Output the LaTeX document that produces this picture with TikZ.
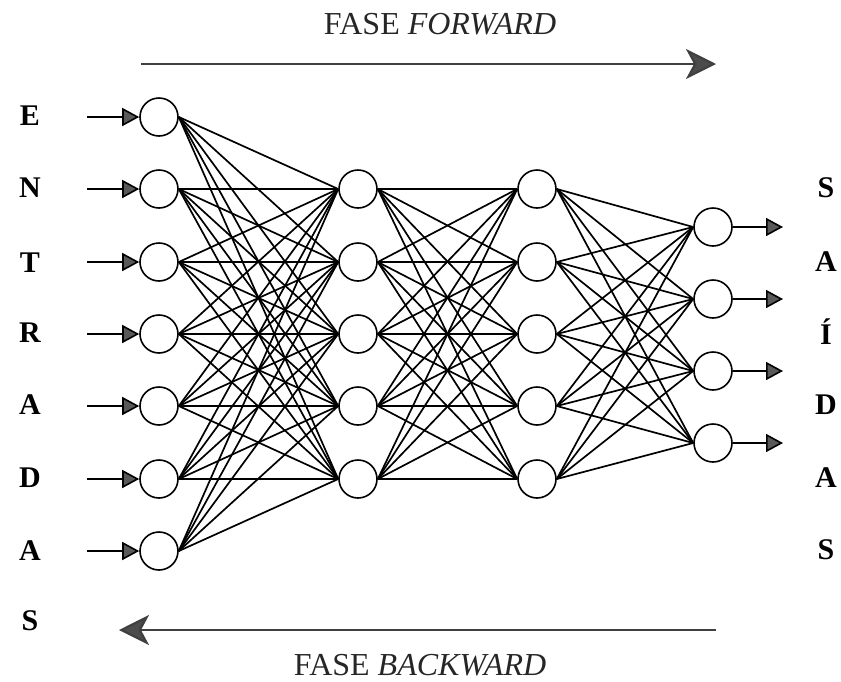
\documentclass[tikz,border=0pt]{standalone}
\usepackage{fontspec}
\setmainfont{Liberation Serif}
\usetikzlibrary{arrows.meta}
\begin{document}
\begin{tikzpicture}[x=0.5pt,y=-0.5pt,
  neuron/.style={circle,draw,line width=0.8pt,minimum size=19pt,inner sep=0pt,fill=white},
  link/.style={line width=0.85pt},
  io/.style={line width=0.8pt,-{Triangle[length=8.5pt,width=9pt,fill=black!65]}},
  phase/.style={line width=1.1pt,draw=black!75,-{Stealth[length=15pt,width=15pt,inset=4pt,fill=black!70]}},
  letter/.style={font=\fontsize{15}{18}\selectfont\bfseries,inner sep=0pt},
  title/.style={font=\fontsize{16}{19}\selectfont,inner sep=0pt,text=black!85}]
\useasboundingbox (0,0) rectangle (841,681);
% input layer
\foreach \i/\y in {1/117,2/189,3/262,4/334,5/406,6/479,7/551}{
  \node[neuron] (a\i) at (159,\y) {};
  \coordinate (in\i) at (87,\y);
}
% hidden layers
\foreach \i/\y in {1/189,2/262,3/334,4/406,5/479}{
  \node[neuron] (b\i) at (358,\y) {};
  \node[neuron] (c\i) at (537,\y) {};
}
% output layer
\foreach \i/\y in {1/227,2/299,3/371,4/443}{
  \node[neuron] (d\i) at (713,\y) {};
  \coordinate (out\i) at (783,\y);
}
% connections
\foreach \i in {1,...,7}{\foreach \j in {1,...,5}{\draw[link] (a\i.east) -- (b\j.west);}}
\foreach \i in {1,...,5}{\foreach \j in {1,...,5}{\draw[link] (b\i.east) -- (c\j.west);}}
\foreach \i in {1,...,5}{\foreach \j in {1,...,4}{\draw[link] (c\i.east) -- (d\j.west);}}
% input / output arrows
\foreach \i in {1,...,7}{\draw[io] (in\i) -- (a\i.west);}
\foreach \i in {1,...,4}{\draw[io] (d\i.east) -- (out\i);}
% side letters
\foreach \t/\y [count=\k] in {E/116,N/188,T/263,R/333,A/405,D/478,A/551,S/621}{
  \node[letter] (l\k) at (30,\y) {\t};
}
\foreach \t/\y [count=\k] in {S/188,A/262,\'I/332,D/405,A/478,S/550}{
  \node[letter] (r\k) at (826,\y) {\t};
}
% phases
\node[title] (fw) at (440,24) {FASE \textit{FORWARD}};
\node[title] (bw) at (420,665) {FASE \textit{BACKWARD}};
\coordinate (fw1) at (141,64);
\coordinate (fw2) at (716,64);
\coordinate (bw1) at (716,630);
\coordinate (bw2) at (119,630);
\draw[phase] (fw1) -- (fw2);
\draw[phase] (bw1) -- (bw2);
\end{tikzpicture}
\end{document}
